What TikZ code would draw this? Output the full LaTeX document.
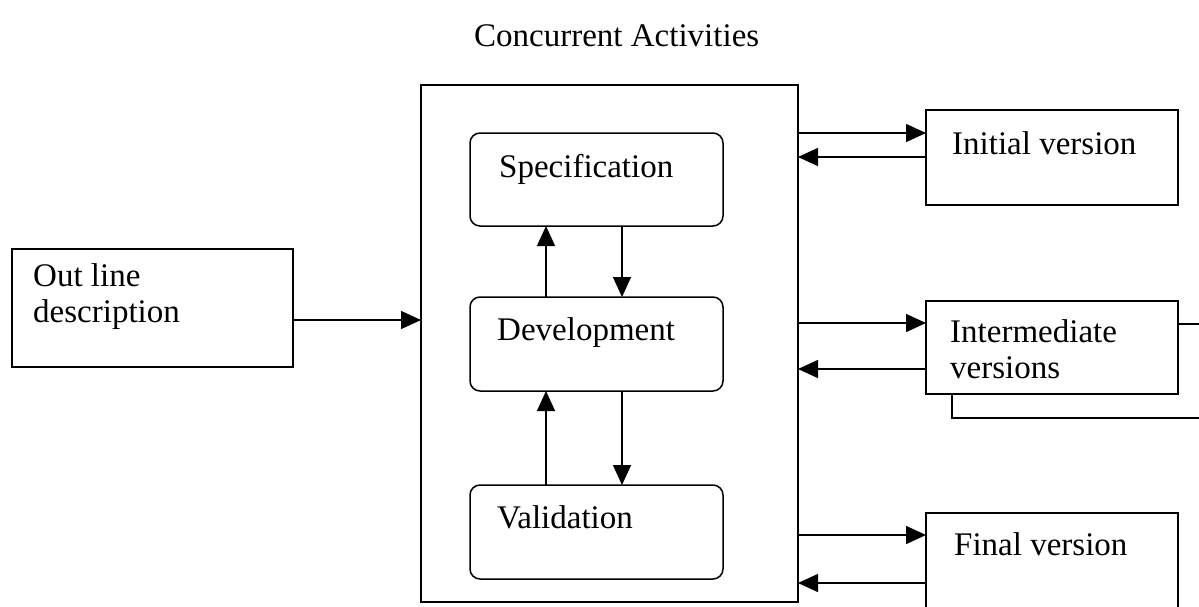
\documentclass[tikz,border=0pt]{standalone}
\usepackage{fontspec}
\setmainfont{Liberation Serif}
\usetikzlibrary{arrows.meta,positioning,calc}
\tikzstyle{arrow} = [line width=1.5pt,-{Triangle[length=20pt,width=18pt]}]
\tikzstyle{box} = [draw,line width=1.5pt,rectangle,inner sep=0pt,outer sep=0pt,fill=white]
\tikzstyle{rbox} = [box,rounded corners=10pt]
\tikzstyle{txt} = [anchor=base west,inner sep=0pt,font=\fontsize{33}{36}\selectfont,align=left]

\begin{document}
\begin{tikzpicture}[x=1pt,y=-1pt]
\clip (0,0) rectangle (1199,606);

% Title
\node[txt] (title) at (474,46) {Concurrent Activities};

% Outer box with the three activities
\node[box,minimum width=377pt,minimum height=517pt] (outer) at (609.5,343.5) {};
\node[rbox,minimum width=253pt,minimum height=93pt] (spec) at (596.5,179.5) {};
\node[rbox,minimum width=253pt,minimum height=94pt] (dev) at (596.5,344) {};
\node[rbox,minimum width=253pt,minimum height=94pt] (val) at (596.5,532) {};
\node[txt] (specT) at (499,177) {Specification};
\node[txt] (devT) at (497,340) {Development};
\node[txt] (valT) at (497,528) {Validation};

% Arrows between activities
\draw[arrow] (dev.north -| 546,0) -- (spec.south -| 546,0);
\draw[arrow] (spec.south -| 622,0) -- (dev.north -| 622,0);
\draw[arrow] (val.north -| 546,0) -- (dev.south -| 546,0);
\draw[arrow] (dev.south -| 622,0) -- (val.north -| 622,0);

% Input
\node[box,minimum width=281pt,minimum height=118pt] (outline) at (152.5,308) {};
\node[txt] (outlineT) at (33,322) {Out line\\description};
\draw[arrow] (outline.east |- 0,320) -- (outer.west |- 0,320);

% Versions
\node[box,minimum width=252pt,minimum height=95pt] (init) at (1052,157.5) {};
\node[txt] (initT) at (952,154) {Initial version};

\node[box,minimum width=253pt,minimum height=94pt] (interB) at (1078.5,371) {};
\node[box,minimum width=252pt,minimum height=93pt] (inter) at (1052,347.5) {};
\node[txt] (interT) at (950,378) {Intermediate\\versions};

\node[box,minimum width=252pt,minimum height=100pt] (final) at (1052,563) {};
\node[txt] (finalT) at (954,555) {Final version};

\draw[arrow] (outer.east |- 0,133) -- (init.west |- 0,133);
\draw[arrow] (init.west |- 0,157) -- (outer.east |- 0,157);
\draw[arrow] (outer.east |- 0,323) -- (inter.west |- 0,323);
\draw[arrow] (inter.west |- 0,369) -- (outer.east |- 0,369);
\draw[arrow] (outer.east |- 0,535) -- (final.west |- 0,535);
\draw[arrow] (final.west |- 0,583) -- (outer.east |- 0,583);
\end{tikzpicture}
\end{document}
